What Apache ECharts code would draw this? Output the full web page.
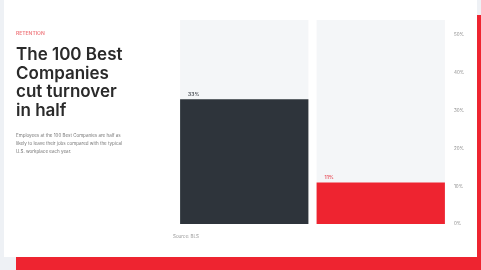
<!DOCTYPE html>
<html>
<head>
<meta charset="utf-8">
<script src="https://cdn.jsdelivr.net/npm/echarts@6/dist/echarts.min.js"></script>
<style>
html, body { margin: 0; padding: 0; width: 481px; height: 270px; overflow: hidden; background: #eef1f5; }
#shadow { position: absolute; left: 16px; top: 15px; width: 480px; height: 270px; background: #ee2430; }
#card { position: absolute; left: 4px; top: 0; width: 473px; height: 257px; background: #fff; }
</style>
</head>
<body>
<div id="shadow"></div>
<div id="card"></div>
<script>
var categories = ['Industry average', '100 Best Companies'];
var turnover = [33, 11];
var barColors = ['#2e343b', '#ee2430'];
var labelColors = ['#4a4f55', '#e8505a'];

var chart = echarts.init(document.getElementById('card'));
var option = {
    backgroundColor: '#fff',
    animation: false,
    textStyle: { fontFamily: 'Inter' },
    title: [
        {
            text: 'RETENTION',
            left: 12, top: 31, padding: 0,
            textStyle: { fontSize: 5, color: '#ef7a7f', fontWeight: 600 }
        },
        {
            text: 'The 100 Best\nCompanies\ncut turnover\nin half',
            left: 12, top: 46, padding: 0,
            textStyle: { fontSize: 17, lineHeight: 18.5, fontWeight: 600, color: '#2a2a2a', fontFamily: 'Inter' }
        },
        {
            text: 'Employees at the 100 Best Companies are half as\nlikely to leave their jobs compared with the typical\nU.S. workplace each year.',
            left: 12, top: 132, padding: 0,
            textStyle: { fontSize: 4.5, lineHeight: 8, color: '#777', fontWeight: 400 }
        },
        {
            text: 'Source: BLS',
            left: 169, top: 234, padding: 0,
            textStyle: { fontSize: 4.5, color: '#999', fontWeight: 400 }
        }
    ],
    grid: { left: 172, right: 28, top: 20, bottom: 33 },
    xAxis: {
        type: 'category',
        data: categories,
        axisLine: { show: false },
        axisTick: { show: false },
        axisLabel: { show: false }
    },
    yAxis: {
        type: 'value',
        position: 'right',
        min: 0,
        max: 54,
        interval: 10,
        splitLine: { show: false },
        axisLine: { show: false },
        axisTick: { show: false },
        axisLabel: {
            fontSize: 4.5,
            color: '#8a8a8a',
            margin: 5,
            formatter: function (v) { return v % 10 === 0 ? v + '%' : ''; }
        }
    },
    series: [{
        type: 'bar',
        barWidth: '94%',
        showBackground: true,
        backgroundStyle: { color: '#f4f6f8' },
        data: turnover.map(function (v, i) {
            return {
                value: v,
                itemStyle: { color: barColors[i] },
                label: { color: labelColors[i] }
            };
        }),
        label: {
            show: true,
            position: [8, -7],
            fontSize: 5,
            fontWeight: 600,
            formatter: '{c}%'
        }
    }]
};
chart.setOption(option);

window.onresize = chart.resize;
</script>
</body>
</html>
